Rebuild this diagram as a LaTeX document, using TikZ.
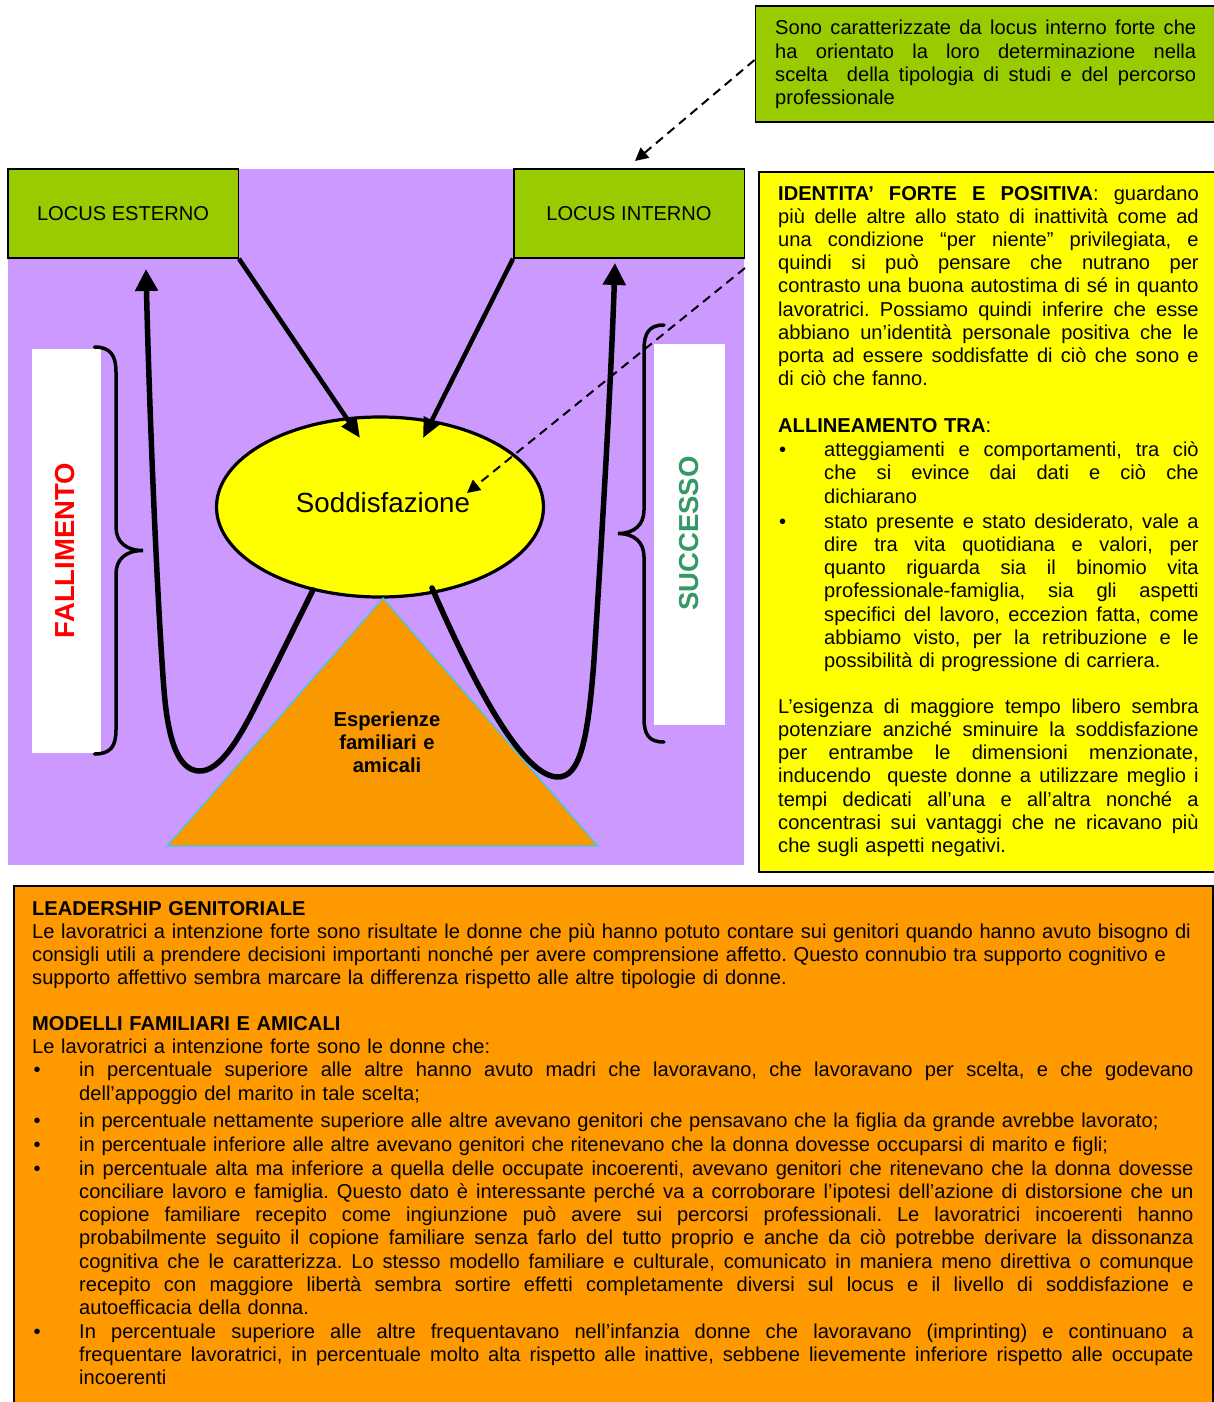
\documentclass[tikz,border=0pt]{standalone}
\usepackage{fontspec}
\setmainfont{Liberation Sans}
\usetikzlibrary{arrows.meta,shapes.geometric}
\definecolor{cpurple}{HTML}{CC99FF}
\definecolor{cgreen}{HTML}{99CC00}
\definecolor{cyellow}{HTML}{FFFF00}
\definecolor{corange}{HTML}{FF9900}
\definecolor{ctri}{HTML}{FA9800}
\definecolor{ccyan}{HTML}{33CCFF}
\definecolor{csucc}{HTML}{339966}
\def\jw{400pt}
\newcommand{\jl}[1]{\hbox to\jw{\spaceskip=0.278em plus 10em minus 0.02em\relax #1}}
\frenchspacing
\begin{document}
\begin{tikzpicture}[x=1pt,y=-1pt,
  txt/.style={inner sep=0pt, font=\fontsize{20.1}{23.2}\selectfont},
  para/.style={txt, anchor=base west, align=left, text width=#1, execute at begin node={\def\jw{#1pt}}},
  bul/.style={txt, anchor=base west},
  gbox/.style={draw=black, fill=cgreen, line width=1.5pt},
  bigword/.style={inner sep=0pt, font=\fontsize{27.5}{30}\selectfont\bfseries, rotate=90},
  whitebox/.style={fill=white, draw=none, inner sep=0pt},
  arrowline/.style={line width=4.5pt, -{Triangle[length=20pt,width=17pt]}},
  uline/.style={line width=5.5pt, line cap=round, -{Triangle[length=22pt,width=22pt]}},
  dashline/.style={line width=2pt, dash pattern=on 9pt off 6pt, -{Triangle[length=13pt,width=13pt]}},
  bracestyle/.style={line width=3.5pt, line cap=round},
]
\useasboundingbox (0,0) rectangle (1213,1402);

% ---------- purple area ----------
\fill[cpurple] (7.5,169) rectangle (744,865);

% ---------- top note ----------
\node[gbox, anchor=north west, minimum width=470, minimum height=116] (note) at (754.5,5.5) {};
\node[para=421] (notetxt) at (775,35) {%
\jl{Sono caratterizzate da locus interno forte che}
\jl{ha orientato la loro determinazione nella}
\jl{scelta\ \ della tipologia di studi e del percorso}
professionale};

% ---------- locus boxes ----------
\node[gbox, txt, minimum width=230.5, minimum height=89] (locE) at (123,213.5) {LOCUS ESTERNO};
\node[gbox, txt, minimum width=230.5, minimum height=89] (locI) at (629,213.5) {LOCUS INTERNO};

% ---------- white boxes, words, braces ----------
\node[whitebox, anchor=north west, minimum width=69, minimum height=404] (wL) at (31.5,349) {};
\node[bigword, text=red] (fall) at (65,550.5) {FALLIMENTO};
\node[whitebox, anchor=north west, minimum width=71, minimum height=381] (wR) at (654,344) {};
\node[bigword, text=csucc] (succ) at (689.5,533.5) {SUCCESSO};

\draw[bracestyle] (94.5,347) .. controls (110,347) and (116,355) .. (116,372) -- (116,527)
  .. controls (116,542) and (126,550.5) .. (143,550.5)
  .. controls (126,550.5) and (116,559) .. (116,574) -- (116,730)
  .. controls (116,747) and (110,754) .. (94.5,754);
\draw[bracestyle] (664,325) .. controls (649,325) and (644,333) .. (644,350) -- (644,510)
  .. controls (644,525) and (634,533.5) .. (618,533.5)
  .. controls (634,533.5) and (644,542) .. (644,557) -- (644,718)
  .. controls (644,735) and (649,742) .. (664,742);

% ---------- ellipse ----------
\node[ellipse, draw=black, fill=cyellow, line width=3.2pt, minimum width=327, minimum height=180, inner sep=0pt] (sodd) at (380,507) {};
\node[inner sep=0pt, anchor=base, font=\fontsize{27.7}{30}\selectfont] (soddtxt) at (383,512) {Soddisfazione};

% ---------- triangle ----------
\coordinate (tA) at (383,598);
\coordinate (tB) at (167,846);
\coordinate (tC) at (598,846);
\draw[ccyan, fill=ctri, line width=1.2pt] (tA) -- (tB) -- (tC) -- cycle;
\node[txt, anchor=base, text width=160, align=center, font=\fontsize{20.2}{23.3}\selectfont\bfseries] (esp) at (387,726) {Esperienze\\familiari e\\amicali};

% ---------- connectors ----------
\coordinate (eA) at (360,438);
\coordinate (eB) at (423,438);
\draw[arrowline] (locE.south east) -- (eA);
\draw[arrowline] (locI.south west) -- (eB);

\coordinate (uLs) at (313,590);
\coordinate (uLe) at (146,269);
\draw[uline] (uLs) -- (257,703) .. controls (240,737) and (220,772) .. (199,771)
  .. controls (178,770) and (168,740) .. (164,690)
  .. controls (157,600) and (149,400) .. (uLe);
\coordinate (uRs) at (432,588);
\coordinate (uRe) at (615,263);
\draw[uline] (uRs) .. controls (470,675) and (520,775) .. (557,777)
  .. controls (580,778) and (588,740) .. (594,660)
  .. controls (603,520) and (611,380) .. (uRe);

\coordinate (nTip) at (635,161);
\draw[dashline] (note.west |- 0,60) -- (nTip);
\coordinate (dS) at (745,268);
\coordinate (dE) at (467,493);
\draw[dashline] (dS) -- (dE);

% ---------- right yellow box ----------
\node[draw=black, fill=cyellow, line width=2pt, anchor=north west, minimum width=465, minimum height=700] (idbox) at (758,171) {};
\node[para=420.5] (p1) at (778,200) {%
\jl{\textbf{IDENTITA’ FORTE E POSITIVA}: guardano}
\jl{più delle altre allo stato di inattività come ad}
\jl{una condizione “per niente” privilegiata, e}
\jl{quindi si può pensare che nutrano per}
\jl{contrasto una buona autostima di sé in quanto}
\jl{lavoratrici. Possiamo quindi inferire che esse}
\jl{abbiano un’identità personale positiva che le}
\jl{porta ad essere soddisfatte di ciò che sono e}
di ciò che fanno.};
\node[para=420.5] (p2) at (778,432.7) {\textbf{ALLINEAMENTO TRA}:};
\node[bul] (b1) at (779,456.7) {\textbullet};
\node[para=374.5] (i1) at (824,456.7) {%
\jl{atteggiamenti e comportamenti, tra ciò}
\jl{che si evince dai dati e ciò che}
dichiarano};
\node[bul] (b2) at (779,528.3) {\textbullet};
\node[para=374.5] (i2) at (824,528.3) {%
\jl{stato presente e stato desiderato, vale a}
\jl{dire tra vita quotidiana e valori, per}
\jl{quanto riguarda sia il binomio vita}
\jl{professionale-famiglia, sia gli aspetti}
\jl{specifici del lavoro, eccezion fatta, come}
\jl{abbiamo visto, per la retribuzione e le}
possibilità di progressione di carriera.};
\node[para=420.5] (p3) at (778,713.3) {%
\jl{L’esigenza di maggiore tempo libero sembra}
\jl{potenziare anziché sminuire la soddisfazione}
\jl{per entrambe le dimensioni menzionate,}
\jl{inducendo\ \ queste donne a utilizzare meglio i}
\jl{tempi dedicati all’una e all’altra nonché a}
\jl{concentrasi sui vantaggi che ne ricavano più}
che sugli aspetti negativi.};

% ---------- bottom orange box ----------
\node[draw=black, fill=corange, line width=2pt, anchor=north west, minimum width=1199, minimum height=540] (obox) at (13,885) {};
\node[para=1178] (q1) at (32,915) {%
\textbf{LEADERSHIP GENITORIALE}\\
Le lavoratrici a intenzione forte sono risultate le donne che più hanno potuto contare sui genitori quando hanno avuto bisogno di\\
consigli utili a prendere decisioni importanti nonché per avere comprensione affetto. Questo connubio tra supporto cognitivo e\\
supporto affettivo sembra marcare la differenza rispetto alle altre tipologie di donne.};
\node[para=1178] (q2) at (32,1030.7) {%
\textbf{MODELLI FAMILIARI E AMICALI}\\
Le lavoratrici a intenzione forte sono le donne che:};
\node[bul] (c1) at (33.5,1076.8) {\textbullet};
\node[para=1114.4] (j1) at (79,1076.8) {%
\jl{in percentuale superiore alle altre hanno avuto madri che lavoravano, che lavoravano per scelta, e che godevano}
dell’appoggio del marito in tale scelta;};
\node[bul] (c2) at (33.5,1127.5) {\textbullet};
\node[para=1130] (j2) at (79,1127.5) {in percentuale nettamente superiore alle altre avevano genitori che pensavano che la figlia da grande avrebbe lavorato;};
\node[bul] (c3) at (33.5,1151.7) {\textbullet};
\node[para=1130] (j3) at (79,1151.7) {in percentuale inferiore alle altre avevano genitori che ritenevano che la donna dovesse occuparsi di marito e figli;};
\node[bul] (c4) at (33.5,1175.2) {\textbullet};
\node[para=1114.4] (j4) at (79,1175.2) {%
\jl{in percentuale alta ma inferiore a quella delle occupate incoerenti, avevano genitori che ritenevano che la donna dovesse}
\jl{conciliare lavoro e famiglia. Questo dato è interessante perché va a corroborare l’ipotesi dell’azione di distorsione che un}
\jl{copione familiare recepito come ingiunzione può avere sui percorsi professionali. Le lavoratrici incoerenti hanno}
\jl{probabilmente seguito il copione familiare senza farlo del tutto proprio e anche da ciò potrebbe derivare la dissonanza}
\jl{cognitiva che le caratterizza. Lo stesso modello familiare e culturale, comunicato in maniera meno direttiva o comunque}
\jl{recepito con maggiore libertà sembra sortire effetti completamente diversi sul locus e il livello di soddisfazione e}
autoefficacia della donna.};
\node[bul] (c5) at (33.5,1338.3) {\textbullet};
\node[para=1114.4] (j5) at (79,1338.3) {%
\jl{In percentuale superiore alle altre frequentavano nell’infanzia donne che lavoravano (imprinting) e continuano a}
\jl{frequentare lavoratrici, in percentuale molto alta rispetto alle inattive, sebbene lievemente inferiore rispetto alle occupate}
incoerenti};
\end{tikzpicture}
\end{document}
